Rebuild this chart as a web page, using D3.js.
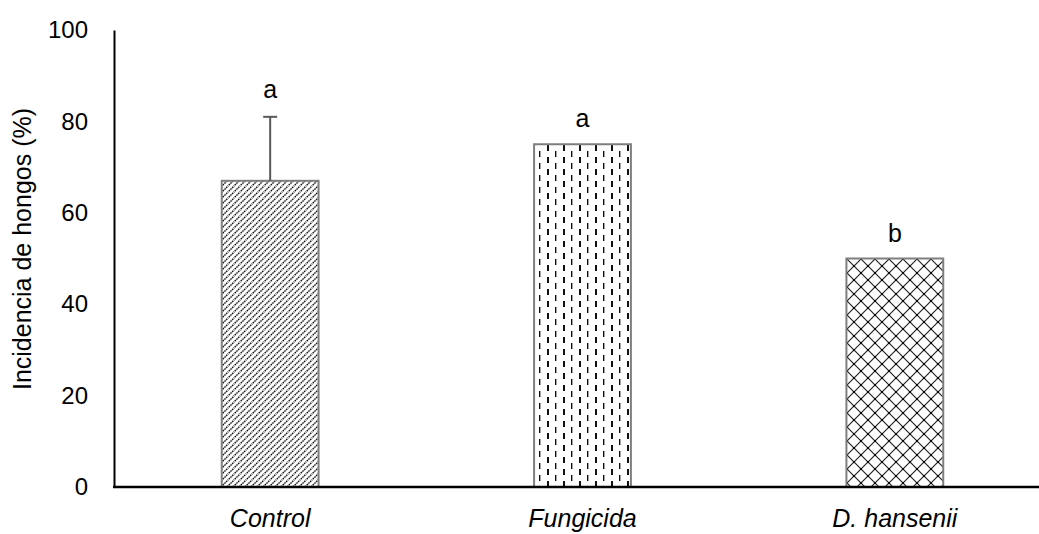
<!DOCTYPE html>
<html>
<head>
<meta charset="utf-8">
<script src="https://cdn.jsdelivr.net/npm/d3@7"></script>
<style>
  html, body { margin: 0; padding: 0; background: #fff; }
  svg { display: block; font-family: "Liberation Sans", Arial, sans-serif; }
</style>
</head>
<body>
<svg id="chart" width="1039" height="534"></svg>
<script>
// Fungal incidence per treatment
const categories = ["Control", "Fungicida", "D. hansenii"];
const values = [67, 75, 50];
const errors = [14, 0, 0];
const letters = ["a", "a", "b"];
const yTicks = [0, 20, 40, 60, 80, 100];
const patternIds = ["hatch", "dashes", "lattice"];

const svg = d3.select("#chart");
const W = 1039, H = 534;
const x0 = 114, yBase = 487, yTop = 30;
const FONT = "Liberation Sans, Arial, sans-serif";

const x = d3.scaleBand().domain(categories).range([x0, x0 + 937]).paddingInner(0.69).paddingOuter(0.345);
const y = d3.scaleLinear().domain([0, 100]).range([yBase, yTop]);

// Fill patterns
const defs = svg.append("defs");
const p1 = defs.append("pattern").attr("id", "hatch").attr("patternUnits", "userSpaceOnUse")
  .attr("width", 6).attr("height", 6);
p1.append("rect").attr("width", 6).attr("height", 6).attr("fill", "#fff");
p1.append("path").attr("d", "M-1,7 L7,-1 M-1,1 L1,-1 M5,7 L7,5")
  .attr("stroke", "#1a1a1a").attr("stroke-width", 1.4).attr("stroke-dasharray", "1.7,0.7");

const p2 = defs.append("pattern").attr("id", "dashes").attr("patternUnits", "userSpaceOnUse")
  .attr("width", 16).attr("height", 12);
p2.append("rect").attr("width", 16).attr("height", 12).attr("fill", "#fff");
p2.append("rect").attr("x", 3).attr("y", 1).attr("width", 2).attr("height", 6).attr("fill", "#111");
p2.append("rect").attr("x", 11).attr("y", 7).attr("width", 1.4).attr("height", 6).attr("fill", "#111");
p2.append("rect").attr("x", 11).attr("y", -5).attr("width", 1.4).attr("height", 6).attr("fill", "#111");

const p3 = defs.append("pattern").attr("id", "lattice").attr("patternUnits", "userSpaceOnUse")
  .attr("width", 14).attr("height", 14);
p3.append("rect").attr("width", 14).attr("height", 14).attr("fill", "#fff");
p3.append("path").attr("d", "M0,0 L14,14 M14,0 L0,14")
  .attr("stroke", "#222").attr("stroke-width", 1.2).attr("fill", "none");
p3.selectAll("circle").data([[0, 0], [14, 0], [0, 14], [14, 14], [7, 7]]).join("circle")
  .attr("cx", d => d[0]).attr("cy", d => d[1]).attr("r", 1.1).attr("fill", "#000");

// Bars
svg.append("g").selectAll("rect").data(values).join("rect")
  .attr("x", (d, i) => x(categories[i]))
  .attr("y", d => y(d))
  .attr("width", x.bandwidth())
  .attr("height", d => y(0) - y(d))
  .attr("fill", (d, i) => `url(#${patternIds[i]})`)
  .attr("stroke", "#7f7f7f").attr("stroke-width", 2);

// Error bars (upper only)
const eg = svg.append("g").attr("stroke", "#595959").attr("stroke-width", 2);
values.forEach((v, i) => {
  if (!errors[i]) return;
  const cx = x(categories[i]) + x.bandwidth() / 2;
  eg.append("line").attr("x1", cx).attr("x2", cx).attr("y1", y(v)).attr("y2", y(v + errors[i]));
  eg.append("line").attr("x1", cx - 7).attr("x2", cx + 7).attr("y1", y(v + errors[i])).attr("y2", y(v + errors[i]));
});

// Significance letters
svg.append("g").selectAll("text").data(letters).join("text")
  .attr("x", (d, i) => x(categories[i]) + x.bandwidth() / 2)
  .attr("y", (d, i) => y(values[i] + errors[i]) - (errors[i] ? 19 : 17))
  .attr("text-anchor", "middle").attr("font-size", 25).attr("fill", "#000")
  .attr("font-family", FONT)
  .text(d => d);

// Y axis
const yAxis = d3.axisLeft(y).tickValues(yTicks).tickSize(0).tickPadding(26);
const gy = svg.append("g").attr("transform", `translate(${x0},0)`).call(yAxis);
gy.select(".domain").attr("stroke", "#000").attr("stroke-width", 2);
gy.selectAll("text").attr("font-size", 24).attr("fill", "#000").attr("font-family", FONT);

// X axis
const xAxis = d3.axisBottom(x).tickSize(0).tickPadding(0);
const gx = svg.append("g").attr("transform", `translate(0,${yBase})`).call(xAxis);
gx.select(".domain").remove();
gx.append("line").attr("x1", x0 - 1).attr("x2", W).attr("y1", 0).attr("y2", 0)
  .attr("stroke", "#000").attr("stroke-width", 2.5);
gx.selectAll(".tick text").attr("dy", null).attr("y", 40)
  .attr("font-size", 25).attr("fill", "#000").attr("font-style", "italic").attr("font-family", FONT);

// Y axis title
svg.append("text")
  .attr("transform", `translate(31,249) rotate(-90)`)
  .attr("text-anchor", "middle").attr("font-size", 25).attr("fill", "#000")
  .attr("font-family", FONT)
  .text("Incidencia de hongos (%)");
</script>
</body>
</html>
